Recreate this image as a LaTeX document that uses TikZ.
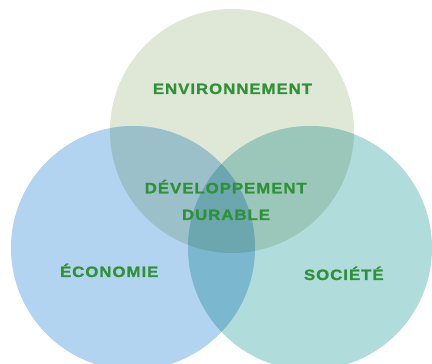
\documentclass[tikz,border=0pt]{standalone}
\usepackage{fontspec}
\newfontfamily\labfont[LetterSpace=6.5,FakeStretch=1.12,FakeBold=1.3]{Liberation Sans}
\definecolor{topc}{HTML}{DFE7D6}
\definecolor{leftc}{HTML}{B2D4F0}
\definecolor{rightc}{HTML}{B0DCDC}
\definecolor{tlc}{HTML}{9CC0C9}
\definecolor{trc}{HTML}{9AC7B9}
\definecolor{lrc}{HTML}{7BB7CF}
\definecolor{tlrc}{HTML}{6CA6AE}
\definecolor{labc}{RGB}{48,146,56}
\newcommand\vennTop{(232,233) circle[radius=122pt]}
\newcommand\vennLeft{(133,116) circle[radius=122pt]}
\newcommand\vennRight{(310,116) circle[radius=122pt]}
\tikzset{lab/.style={text=labc,font=\labfont\bfseries\fontsize{15}{17}\selectfont,inner sep=0pt,anchor=base}}
\begin{document}
\begin{tikzpicture}[x=1pt,y=1pt]
\useasboundingbox (0,0) rectangle (432,364);
\clip (0,0) rectangle (432,364);
\fill[topc] \vennTop;
\fill[leftc] \vennLeft;
\fill[rightc] \vennRight;
\begin{scope}\clip \vennTop; \fill[tlc] \vennLeft; \end{scope}
\begin{scope}\clip \vennTop; \fill[trc] \vennRight; \end{scope}
\begin{scope}\clip \vennLeft; \fill[lrc] \vennRight; \end{scope}
\begin{scope}\clip \vennTop; \clip \vennLeft; \fill[tlrc] \vennRight; \end{scope}
\node[lab] (env) at (232.5,270) {ENVIRONNEMENT};
\node[lab] (dev) at (225.8,170.7) {DÉVELOPPEMENT};
\node[lab] (dur) at (226,144) {DURABLE};
\node[lab] (eco) at (109.2,87) {ÉCONOMIE};
\node[lab] (soc) at (343.8,84) {SOCIÉTÉ};
\end{tikzpicture}
\end{document}
